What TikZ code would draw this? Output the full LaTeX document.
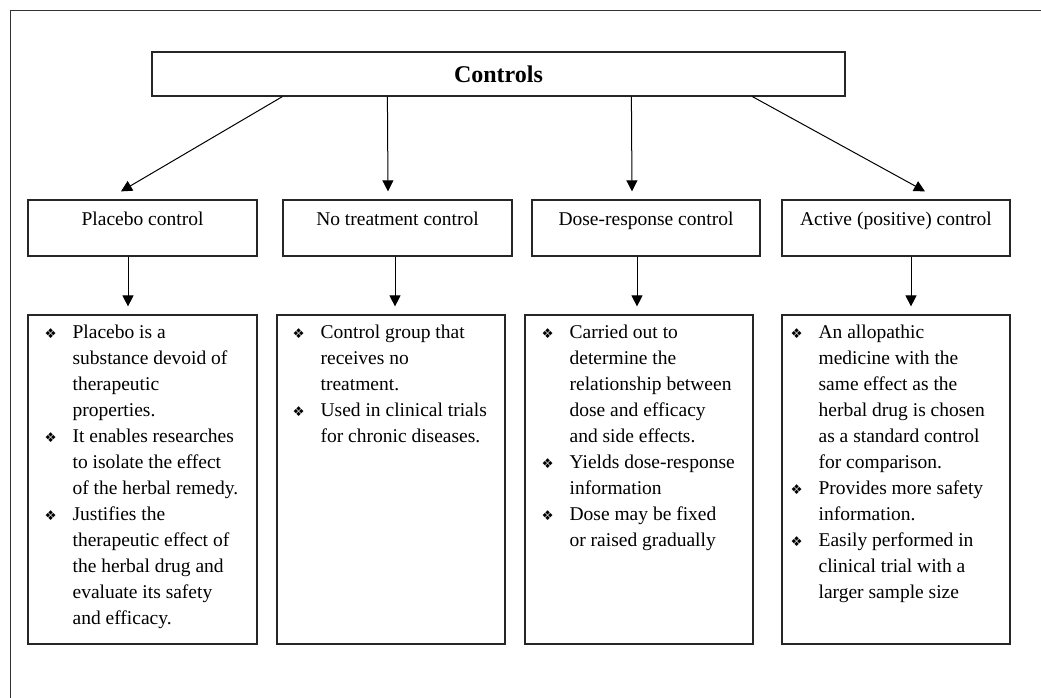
\documentclass[tikz,border=0pt]{standalone}
\usepackage{fontspec}
\setmainfont{Liberation Serif}
\newfontfamily\bulfont{DejaVu Sans}
\usetikzlibrary{arrows.meta,calc}
\newcommand{\bul}{\makebox[28pt][l]{\raisebox{0.5pt}{\bulfont\fontsize{13.5}{14}\selectfont ❖}}}
\newcommand{\ind}{\hspace*{28pt}}
\begin{document}
\begin{tikzpicture}[x=1pt,y=-1pt,
  frame/.style={line width=1.1pt, draw=black!80},
  topbox/.style={draw=black!85, line width=1.2pt, inner sep=0pt, minimum width=693pt, minimum height=44pt},
  hbox/.style={draw=black!85, line width=1.2pt, inner sep=0pt, minimum width=#1, minimum height=56pt},
  dbox/.style={draw=black!85, line width=1.2pt, inner sep=0pt, minimum width=#1, minimum height=329pt},
  lbl/.style={anchor=base, inner sep=0pt, font=\fontsize{19.5}{26}\selectfont},
  ttl/.style={anchor=base, inner sep=0pt, font=\bfseries\fontsize{24}{28}\selectfont},
  dtext/.style={anchor=north west, inner sep=0pt, align=left, font=\fontsize{19.5}{26}\selectfont},
  arr/.style={-{Triangle[length=11pt,width=11pt]}, line width=1pt, draw=black}]
\useasboundingbox (0,0) rectangle (1041,698);
\draw[frame] (10.5,698) -- (10.5,10.5) -- (1041,10.5);

\node[topbox] (ctrl) at (498.5,74) {};
\node[ttl] (ctrlt) at ($(ctrl.north)+(0,31)$) {Controls};

\node[hbox=229pt] (p1) at (142.5,228) {};
\node[hbox=229pt] (p2) at (397.5,228) {};
\node[hbox=228pt] (p3) at (646,228) {};
\node[hbox=228pt] (p4) at (896,228) {};
\node[lbl] (p1t) at ($(p1.north)+(0,26)$) {Placebo control};
\node[lbl] (p2t) at ($(p2.north)+(0,26)$) {No treatment control};
\node[lbl] (p3t) at ($(p3.north)+(0,26)$) {Dose-response control};
\node[lbl] (p4t) at ($(p4.north)+(0,26)$) {Active (positive) control};

\node[dbox=229pt] (d1) at (142.5,479.5) {};
\node[dbox=228pt] (d2) at (391,479.5) {};
\node[dbox=228pt] (d3) at (639,479.5) {};
\node[dbox=228pt] (d4) at (896,479.5) {};

\node[dtext] (d1t) at ($(d1.north west)+(17,6)$) {\strut\bul Placebo is a\\
\ind substance devoid of\\
\ind therapeutic\\
\ind properties.\\
\bul It enables researches\\
\ind to isolate the effect\\
\ind of the herbal remedy.\\
\bul Justifies the\\
\ind therapeutic effect of\\
\ind the herbal drug and\\
\ind evaluate its safety\\
\ind and efficacy.};

\node[dtext] (d2t) at ($(d2.north west)+(16,6)$) {\strut\bul Control group that\\
\ind receives no\\
\ind treatment.\\
\bul Used in clinical trials\\
\ind for chronic diseases.};

\node[dtext] (d3t) at ($(d3.north west)+(17,6)$) {\strut\bul Carried out to\\
\ind determine the\\
\ind relationship between\\
\ind dose and efficacy\\
\ind and side effects.\\
\bul Yields dose-response\\
\ind information\\
\bul Dose may be fixed\\
\ind or raised gradually};

\node[dtext] (d4t) at ($(d4.north west)+(9,6)$) {\strut\bul An allopathic\\
\ind medicine with the\\
\ind same effect as the\\
\ind herbal drug is chosen\\
\ind as a standard control\\
\ind for comparison.\\
\bul Provides more safety\\
\ind information.\\
\bul Easily performed in\\
\ind clinical trial with a\\
\ind larger sample size};

\draw[arr] ($(ctrl.south west)+(131,0)$) -- ($(p1.north)+(-21.5,-8)$);
\draw[arr] ($(ctrl.south west)+(236,0)$) -- ($(p2.north)+(-9.5,-8)$);
\draw[arr] ($(ctrl.south west)+(480,0)$) -- ($(p3.north)+(-14,-8)$);
\draw[arr] ($(ctrl.south west)+(601,0)$) -- ($(p4.north)+(29,-8)$);

\draw[arr] ($(p1.south)+(-14.5,0)$) -- ($(d1.north)+(-14.5,-8)$);
\draw[arr] ($(p2.south)+(-2.5,0)$) -- ($(d2.north)+(4,-8)$);
\draw[arr] ($(p3.south)+(-9,0)$) -- ($(d3.north)+(-2,-8)$);
\draw[arr] ($(p4.south)+(15,0)$) -- ($(d4.north)+(15,-8)$);
\end{tikzpicture}
\end{document}
